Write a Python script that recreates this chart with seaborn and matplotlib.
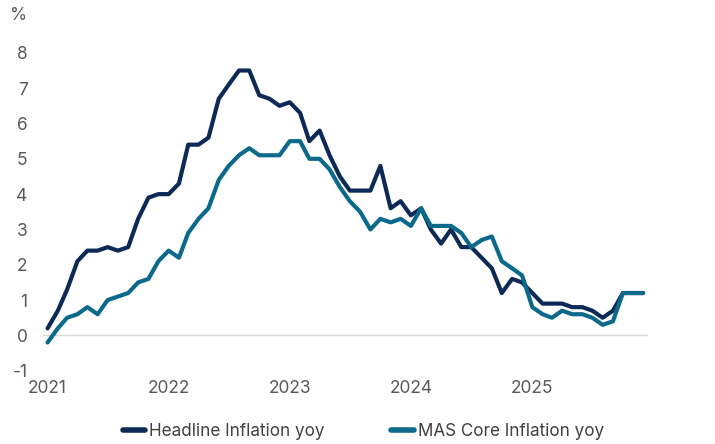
import matplotlib
matplotlib.use("Agg")
import matplotlib.pyplot as plt
import matplotlib.dates as mdates
import numpy as np
import pandas as pd
import seaborn as sns

# Monthly year-on-year inflation, Jan 2021 - Dec 2025
months = pd.date_range("2021-01-01", "2025-12-01", freq="MS")

headline = [
    0.2, 0.7, 1.3, 2.1, 2.4, 2.4, 2.5, 2.4, 2.5, 3.3, 3.9, 4.0,
    4.0, 4.3, 5.4, 5.4, 5.6, 6.7, 7.1, 7.5, 7.5, 6.8, 6.7, 6.5,
    6.6, 6.3, 5.5, 5.8, 5.1, 4.5, 4.1, 4.1, 4.1, 4.8, 3.6, 3.8,
    3.4, 3.6, 3.0, 2.6, 3.0, 2.5, 2.5, 2.2, 1.9, 1.2, 1.6, 1.5,
    1.2, 0.9, 0.9, 0.9, 0.8, 0.8, 0.7, 0.5, 0.7, 1.2, 1.2, 1.2,
]
core = [
    -0.2, 0.2, 0.5, 0.6, 0.8, 0.6, 1.0, 1.1, 1.2, 1.5, 1.6, 2.1,
    2.4, 2.2, 2.9, 3.3, 3.6, 4.4, 4.8, 5.1, 5.3, 5.1, 5.1, 5.1,
    5.5, 5.5, 5.0, 5.0, 4.7, 4.2, 3.8, 3.5, 3.0, 3.3, 3.2, 3.3,
    3.1, 3.6, 3.1, 3.1, 3.1, 2.9, 2.5, 2.7, 2.8, 2.1, 1.9, 1.7,
    0.8, 0.6, 0.5, 0.7, 0.6, 0.6, 0.5, 0.3, 0.4, 1.2, 1.2, 1.2,
]
series_names = ["Headline Inflation yoy", "MAS Core Inflation yoy"]
series_colors = ["#0c2a55", "#0b6a8b"]
y_ticks = list(range(-1, 9))
x_tick_years = [2021, 2022, 2023, 2024, 2025]

df = pd.concat([
    pd.DataFrame({"date": months, "value": headline, "series": series_names[0]}),
    pd.DataFrame({"date": months, "value": core, "series": series_names[1]}),
])

sns.set_theme(style="white")
plt.rcParams["font.family"] = ["Inter", "DejaVu Sans"]
plt.rcParams["axes.unicode_minus"] = False

fig = plt.figure(figsize=(7.15, 4.44), dpi=100)
ax = fig.add_axes([0.060, 0.165, 0.846, 0.716])

ax.axhline(0, color="#d9d9d9", lw=1.0, zorder=0)

sns.lineplot(
    data=df, x="date", y="value", hue="series",
    hue_order=series_names, palette=series_colors,
    linewidth=3.0, ax=ax, legend=False,
)

for s in ax.spines.values():
    s.set_visible(False)

ax.set_ylim(-1, 8)
ax.set_yticks(y_ticks)
ax.set_xlim(months[0] - pd.Timedelta(days=14), months[-1] + pd.Timedelta(days=14))
ax.set_xticks([pd.Timestamp(f"{y}-01-01") for y in x_tick_years])
ax.xaxis.set_major_formatter(mdates.DateFormatter("%Y"))
ax.set_xlabel("")
ax.set_ylabel("")
ax.tick_params(axis="both", length=0, labelsize=12.5, labelcolor="#595959")
ax.tick_params(axis="y", pad=11)
ax.tick_params(axis="x", pad=7)
ax.grid(False)

fig.text(19 / 715, 1 - 16 / 444, "%", ha="center", va="center",
         fontsize=12.5, color="#595959")

handles = [plt.Line2D([0], [0], color=c, lw=4, solid_capstyle="round")
           for c in series_colors]
fig.legend(handles, series_names, loc="center",
           bbox_to_anchor=(0.5 + 6 / 715, 1 - 431 / 444),
           ncol=2, frameon=False, fontsize=12.3, handlelength=1.3,
           handletextpad=0.25, columnspacing=3.9, labelcolor="#404040")

fig.savefig("out.png", dpi=100)
